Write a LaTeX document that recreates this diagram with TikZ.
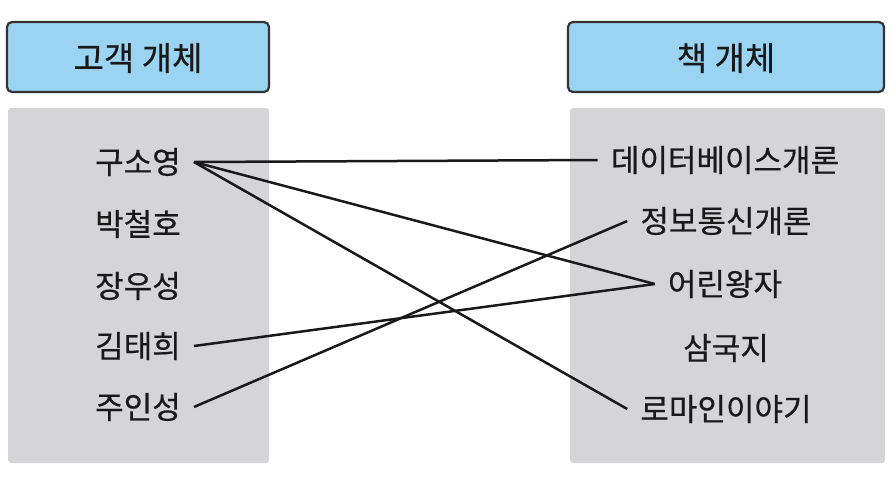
\documentclass[tikz,border=0pt]{standalone}
\usepackage{fontspec}
\newfontfamily\kr[FakeBold=0.5]{Noto Sans CJK KR}
\definecolor{hdrblue}{HTML}{9AD4F2}
\definecolor{hdrline}{HTML}{333333}
\definecolor{panelgray}{HTML}{D5D5D8}
\begin{document}
\begin{tikzpicture}[x=1pt,y=-1pt,
  header/.style={draw=hdrline,line width=2.2pt,fill=hdrblue,rounded corners=5pt},
  panel/.style={fill=panelgray,draw=none,rounded corners=3pt},
  item/.style={font=\kr\fontsize{31}{35}\selectfont,inner xsep=13pt,inner ysep=0pt,text=black!90},
  htext/.style={font=\kr\fontsize{33}{37}\selectfont,text=black!90},
  link/.style={line width=2.5pt,black!90}]
\useasboundingbox (0,0) rectangle (891,483);
% headers
\draw[header] (7,22) rectangle (269,92);
\draw[header] (568,22) rectangle (884,92);
\node[htext] (hl) at (138,58) {고객 개체};
\node[htext] (hr) at (726,58) {책 개체};
% panels
\fill[panel] (8,108) rectangle (269,463);
\fill[panel] (570,108) rectangle (885,463);
% left items
\node[item] (c1) at (138,162) {구소영};
\node[item] (c2) at (138,224) {박철호};
\node[item] (c3) at (138,286) {장우성};
\node[item] (c4) at (138,346) {김태희};
\node[item] (c5) at (138,407) {주인성};
% right items
\node[item] (b1) at (725,160) {데이터베이스개론};
\node[item] (b2) at (726,221) {정보통신개론};
\node[item] (b3) at (725,284) {어린왕자};
\node[item] (b4) at (726,348) {삼국지};
\node[item] (b5) at (726,409) {로마인이야기};
% links
\draw[link] (c1.east) -- (b1.west);
\draw[link] (c1.east) -- (b3.west);
\draw[link] (c1.east) -- (b5.west);
\draw[link] (c4.east) -- (b3.west);
\draw[link] (c5.east) -- (b2.west);
\end{tikzpicture}
\end{document}
